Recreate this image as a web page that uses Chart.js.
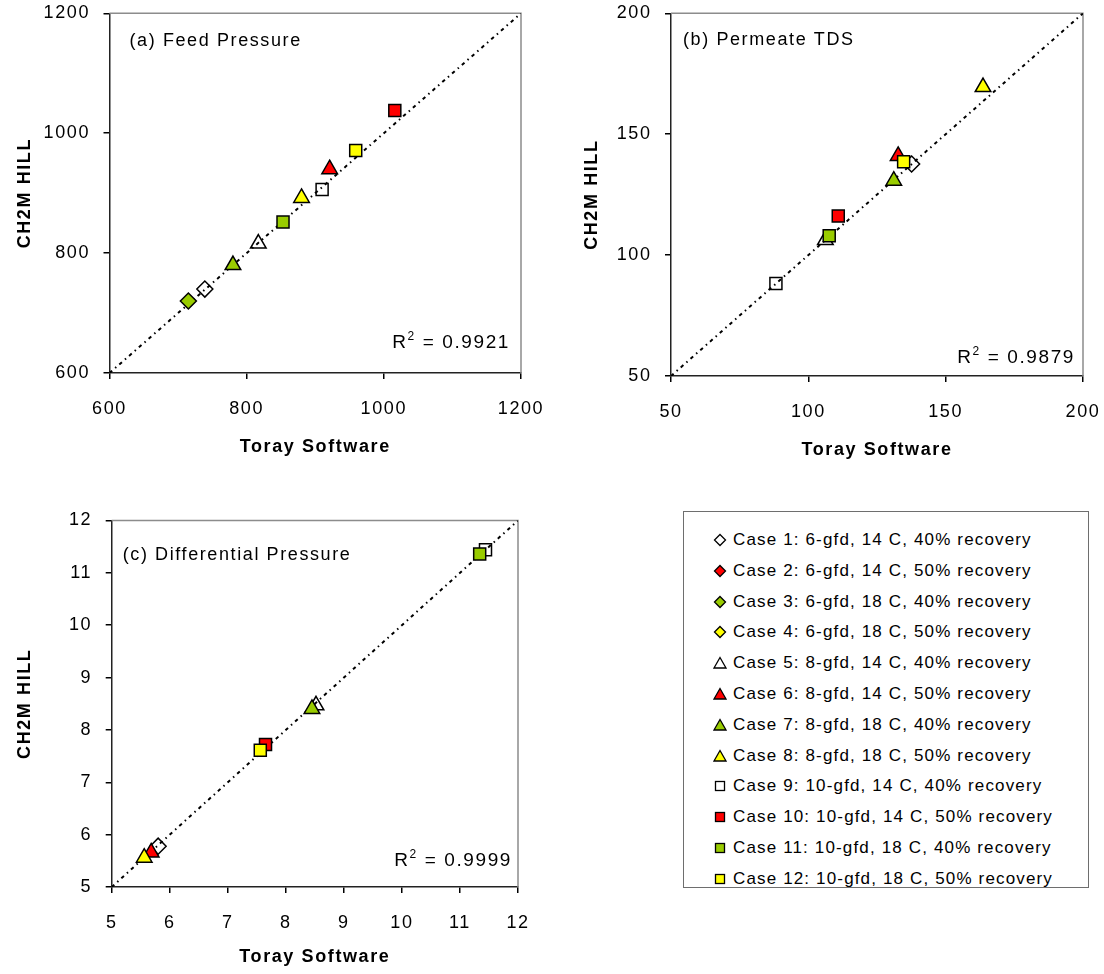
<!DOCTYPE html>
<html>
<head>
<meta charset="utf-8">
<script src="https://cdn.jsdelivr.net/npm/chart.js@4.4.1/dist/chart.umd.min.js"></script>
<style>
  html, body { margin: 0; padding: 0; background: #fff; }
  body { width: 1104px; height: 974px; position: relative; overflow: hidden;
         font-family: "Liberation Sans", Arial, sans-serif; }
  canvas { position: absolute; }
  #legend { position: absolute; left: 683px; top: 511px; width: 406px; height: 377px;
            border: 1.5px solid #6e6e6e; box-sizing: border-box; background: #fff; }
  .row { position: absolute; left: 0; height: 24px; display: flex; align-items: center;
         font-size: 17px; letter-spacing: 1.15px; color: #000; white-space: nowrap; }
  .row svg { margin-left: 29px; margin-right: 6px; }
</style>
</head>
<body>
<canvas id="feed" width="552" height="458" style="left:0;top:0"></canvas>
<canvas id="tds" width="544" height="461" style="left:560px;top:0"></canvas>
<canvas id="dp" width="552" height="488" style="left:0;top:480px"></canvas>
<div id="legend"></div>

<script>
// ---- cases ----
const caseLabels = [
  'Case 1: 6-gfd, 14 C, 40% recovery',
  'Case 2: 6-gfd, 14 C, 50% recovery',
  'Case 3: 6-gfd, 18 C, 40% recovery',
  'Case 4: 6-gfd, 18 C, 50% recovery',
  'Case 5: 8-gfd, 14 C, 40% recovery',
  'Case 6: 8-gfd, 14 C, 50% recovery',
  'Case 7: 8-gfd, 18 C, 40% recovery',
  'Case 8: 8-gfd, 18 C, 50% recovery',
  'Case 9: 10-gfd, 14 C, 40% recovery',
  'Case 10: 10-gfd, 14 C, 50% recovery',
  'Case 11: 10-gfd, 18 C, 40% recovery',
  'Case 12: 10-gfd, 18 C, 50% recovery'
];
const caseShapes = ['rectRot','rectRot','rectRot','rectRot',
                    'triangle','triangle','triangle','triangle',
                    'rect','rect','rect','rect'];
const caseColors = ['#ffffff','#ff0000','#99cc00','#ffff00',
                    '#ffffff','#ff0000','#99cc00','#ffff00',
                    '#ffffff','#ff0000','#99cc00','#ffff00'];

// ---- (a) feed pressure ----
const feedToray = [739, null, 715, null, 817, 921, 780, 880, 910, 1016, 853, 959];
const feedCh2m  = [740, null, 720, null, 816, 940, 780, 892, 906, 1038, 852, 971];
const feedTicks = [600, 800, 1000, 1200];

// ---- (b) permeate TDS ----
const tdsToray = [137.6, null, null, null, 106.2, 132.7, 131.1, 163.6, 88.2, 110.9, 107.6, 134.7];
const tdsCh2m  = [137.7, null, null, null, 106.2, 141.0, 130.8, 169.5, 88.3, 116.2, 108.0, 138.6];
const tdsTicks = [50, 100, 150, 200];

// ---- (c) differential pressure ----
const dpToray = [5.80, null, null, null, 8.52, 5.68, 8.45, 5.56, 11.44, 7.65, 11.34, 7.56];
const dpCh2m  = [5.78, null, null, null, 8.47, 5.66, 8.40, 5.56, 11.44, 7.72, 11.36, 7.61];
const dpTicks = [5, 6, 7, 8, 9, 10, 11, 12];

const panelTitles = ['(a) Feed Pressure', '(b) Permeate TDS', '(c) Differential Pressure'];
const r2Values = ['0.9921', '0.9879', '0.9999'];
const xTitle = 'Toray Software';
const yTitle = 'CH2M HILL';

const FONT = '"Liberation Sans", Arial, sans-serif';
const SPACING = '1.6px';

function markerRadius(shape) {
  return shape === 'rect' ? 8.5 : shape === 'triangle' ? 9 : 8;
}
function fillFor(color) {
  // white markers are hollow so the 1:1 line shows through
  return color === '#ffffff' ? 'rgba(255,255,255,0)' : color;
}

// panel label and R² annotation
const annotate = {
  id: 'annotate',
  beforeDraw(chart) { chart.ctx.letterSpacing = SPACING; },
  afterDatasetsDraw(chart, args, o) {
    const ctx = chart.ctx, a = chart.chartArea;
    ctx.save();
    ctx.letterSpacing = SPACING;
    ctx.fillStyle = '#000';
    ctx.textBaseline = 'alphabetic';
    ctx.textAlign = 'left';
    ctx.font = '18px ' + FONT;
    ctx.fillText(o.title, a.left + o.titleDx, a.top + o.titleDy);
    // R² = value, right aligned
    const main = '19px ' + FONT, sup = '12px ' + FONT;
    ctx.font = main;
    const wR = ctx.measureText('R').width;
    const wV = ctx.measureText(' = ' + o.r2).width;
    ctx.font = sup;
    const w2 = ctx.measureText('2').width;
    let x = a.right - o.r2Dx - (wR + w2 + wV);
    const y = a.bottom - o.r2Dy;
    ctx.font = main; ctx.fillText('R', x, y); x += wR;
    ctx.font = sup;  ctx.fillText('2', x, y - 8); x += w2;
    ctx.font = main; ctx.fillText(' = ' + o.r2, x, y);
    ctx.restore();
  }
};

// grey top/right frame of the plot area
const frame = {
  id: 'frame',
  beforeDatasetsDraw(chart) {
    const ctx = chart.ctx, a = chart.chartArea;
    ctx.save();
    ctx.strokeStyle = '#8c8c8c';
    ctx.lineWidth = 1.5;
    ctx.beginPath();
    ctx.moveTo(a.left, a.top);
    ctx.lineTo(a.right, a.top);
    ctx.lineTo(a.right, a.bottom);
    ctx.stroke();
    ctx.restore();
  }
};

function makePanel(canvasId, toray, ch2m, ticks, idx, geo) {
  const lo = ticks[0], hi = ticks[ticks.length - 1];
  const datasets = [];
  for (let i = 0; i < caseLabels.length; i++) {
    if (toray[i] === null || ch2m[i] === null) continue;
    datasets.push({
      label: caseLabels[i],
      data: [{ x: toray[i], y: ch2m[i] }],
      pointStyle: caseShapes[i],
      pointRadius: markerRadius(caseShapes[i]),
      backgroundColor: fillFor(caseColors[i]),
      borderColor: '#000',
      borderWidth: 1.5,
      order: caseLabels.length - i
    });
  }
  // 1:1 reference line (dash-dot)
  datasets.push({
    label: '1:1',
    data: [{ x: lo, y: lo }, { x: hi, y: hi }],
    showLine: true,
    pointRadius: 0,
    borderColor: '#000',
    borderWidth: 2,
    borderDash: [3.5, 4, 1.5, 4],
    order: 100
  });

  const axisCommon = (title, titlePad) => ({
    type: 'linear',
    min: lo, max: hi,
    afterBuildTicks: s => { s.ticks = ticks.map(v => ({ value: v })); },
    grid: { drawOnChartArea: false, drawTicks: true, tickLength: 6,
            color: '#000', lineWidth: 1.5 },
    border: { display: true, color: '#222', width: 1.5 },
    ticks: { color: '#000', font: { family: FONT, size: 18 }, maxRotation: 0,
             callback: v => String(v) },
    title: { display: true, text: title, color: '#000',
             font: { family: FONT, size: 18, weight: 'bold' }, padding: titlePad }
  });
  const noOverhang = s => { s.paddingLeft = 0; s.paddingRight = 0; s.paddingTop = 0; s.paddingBottom = 0; };

  const xs = axisCommon(xTitle, { top: 0, bottom: 0 });
  xs.ticks.padding = 19;
  xs.afterFit = s => { s.height = geo.xH; noOverhang(s); };
  const ys = axisCommon(yTitle, { top: geo.yTitlePad, bottom: 0 });
  ys.ticks.padding = 13.5;
  ys.afterFit = s => { s.width = geo.yW; noOverhang(s); };

  return new Chart(document.getElementById(canvasId), {
    type: 'scatter',
    data: { datasets },
    options: {
      responsive: false,
      animation: false,
      events: [],
      layout: { padding: { top: geo.top, right: geo.right, left: 0, bottom: 0 } },
      scales: { x: xs, y: ys },
      plugins: {
        legend: { display: false },
        tooltip: { enabled: false },
        annotate: {
          title: panelTitles[idx], titleDx: geo.titleDx, titleDy: geo.titleDy,
          r2: r2Values[idx], r2Dx: geo.r2Dx, r2Dy: geo.r2Dy
        }
      }
    },
    plugins: [frame, annotate]
  });
}

makePanel('feed', feedToray, feedCh2m, feedTicks, 0,
  { top: 13.3, right: 31, yW: 109.5, xH: 85, yTitlePad: 14,
    titleDx: 20, titleDy: 32.5, r2Dx: 11, r2Dy: 25 });
makePanel('tds', tdsToray, tdsCh2m, tdsTicks, 1,
  { top: 13.3, right: 21, yW: 111, xH: 85, yTitlePad: 21,
    titleDx: 12, titleDy: 32, r2Dx: 8, r2Dy: 13 });
makePanel('dp', dpToray, dpCh2m, dpTicks, 2,
  { top: 40.5, right: 34, yW: 111.7, xH: 81, yTitlePad: 14,
    titleDx: 11, titleDy: 39, r2Dx: 6, r2Dy: 21 });

// ---- legend ----
function markerSvg(shape, color) {
  const s = 14, c = s / 2;
  let el;
  if (shape === 'rectRot') {
    el = `<polygon points="${c},1.5 ${s-1.5},${c} ${c},${s-1.5} 1.5,${c}"/>`;
  } else if (shape === 'triangle') {
    el = `<polygon points="${c},1.5 ${s-1},${s-2} 1,${s-2}"/>`;
  } else {
    el = `<rect x="2.5" y="2.5" width="${s-5}" height="${s-5}"/>`;
  }
  return `<svg width="${s}" height="${s}" viewBox="0 0 ${s} ${s}">` +
         `<g fill="${color}" stroke="#000" stroke-width="1.3">${el}</g></svg>`;
}
const legend = document.getElementById('legend');
caseLabels.forEach((label, i) => {
  const row = document.createElement('div');
  row.className = 'row';
  row.style.top = (16 + i * 30.8) + 'px';
  row.innerHTML = markerSvg(caseShapes[i], caseColors[i]) + '<span>' + label + '</span>';
  legend.appendChild(row);
});
</script>
</body>
</html>
